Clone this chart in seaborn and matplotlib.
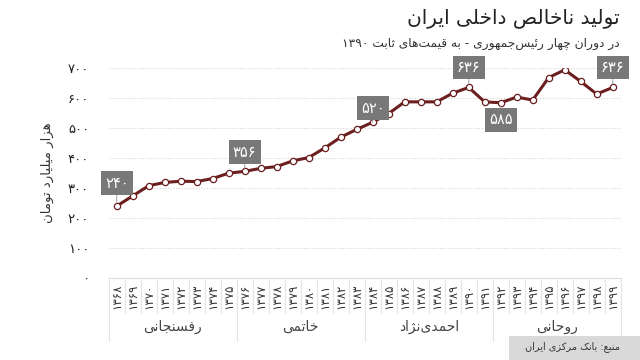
import matplotlib
matplotlib.use("Agg")
import matplotlib.pyplot as plt
import matplotlib.transforms as mtransforms
import seaborn as sns
import pandas as pd

# ---------------- data ----------------
years = [1368, 1369, 1370, 1371, 1372, 1373, 1374, 1375,
         1376, 1377, 1378, 1379, 1380, 1381, 1382, 1383,
         1384, 1385, 1386, 1387, 1388, 1389, 1390, 1391,
         1392, 1393, 1394, 1395, 1396, 1397, 1398, 1399]
gdp = [240, 274, 308, 319, 323, 322, 332, 350,
       356, 366, 372, 391, 402, 434, 470, 496,
       520, 549, 588, 588, 588, 617, 636, 588,
       585, 604, 594, 669, 695, 656, 614, 636]
presidents = ["رفسنجانی", "خاتمی", "احمدی‌نژاد", "روحانی"]
president_first_year = [1368, 1376, 1384, 1392]
labelled_years = [1368, 1376, 1384, 1390, 1392, 1399]
label_offsets_px = [23, 19, 14, 20, -17, 20]
yticks = [0, 100, 200, 300, 400, 500, 600, 700]

title = "تولید ناخالص داخلی ایران"
subtitle = "در دوران چهار رئیس‌جمهوری - به قیمت‌های ثابت ۱۳۹۰"
ylabel = "هزار میلیارد تومان"
source = "منبع: بانک مرکزی ایران"

# ---------------- minimal Arabic/Persian shaping ----------------
FORMS = {
    'ء': (0xFE80, None, None, None),
    'آ': (0xFE81, 0xFE82, None, None),
    'أ': (0xFE83, 0xFE84, None, None),
    'ؤ': (0xFE85, 0xFE86, None, None),
    'إ': (0xFE87, 0xFE88, None, None),
    'ئ': (0xFE89, 0xFE8A, 0xFE8B, 0xFE8C),
    'ا': (0xFE8D, 0xFE8E, None, None),
    'ب': (0xFE8F, 0xFE90, 0xFE91, 0xFE92),
    'ة': (0xFE93, 0xFE94, None, None),
    'ت': (0xFE95, 0xFE96, 0xFE97, 0xFE98),
    'ث': (0xFE99, 0xFE9A, 0xFE9B, 0xFE9C),
    'ج': (0xFE9D, 0xFE9E, 0xFE9F, 0xFEA0),
    'ح': (0xFEA1, 0xFEA2, 0xFEA3, 0xFEA4),
    'خ': (0xFEA5, 0xFEA6, 0xFEA7, 0xFEA8),
    'د': (0xFEA9, 0xFEAA, None, None),
    'ذ': (0xFEAB, 0xFEAC, None, None),
    'ر': (0xFEAD, 0xFEAE, None, None),
    'ز': (0xFEAF, 0xFEB0, None, None),
    'س': (0xFEB1, 0xFEB2, 0xFEB3, 0xFEB4),
    'ش': (0xFEB5, 0xFEB6, 0xFEB7, 0xFEB8),
    'ص': (0xFEB9, 0xFEBA, 0xFEBB, 0xFEBC),
    'ض': (0xFEBD, 0xFEBE, 0xFEBF, 0xFEC0),
    'ط': (0xFEC1, 0xFEC2, 0xFEC3, 0xFEC4),
    'ظ': (0xFEC5, 0xFEC6, 0xFEC7, 0xFEC8),
    'ع': (0xFEC9, 0xFECA, 0xFECB, 0xFECC),
    'غ': (0xFECD, 0xFECE, 0xFECF, 0xFED0),
    'ف': (0xFED1, 0xFED2, 0xFED3, 0xFED4),
    'ق': (0xFED5, 0xFED6, 0xFED7, 0xFED8),
    'ك': (0xFED9, 0xFEDA, 0xFEDB, 0xFEDC),
    'ل': (0xFEDD, 0xFEDE, 0xFEDF, 0xFEE0),
    'م': (0xFEE1, 0xFEE2, 0xFEE3, 0xFEE4),
    'ن': (0xFEE5, 0xFEE6, 0xFEE7, 0xFEE8),
    'ه': (0xFEE9, 0xFEEA, 0xFEEB, 0xFEEC),
    'و': (0xFEED, 0xFEEE, None, None),
    'ى': (0xFEEF, 0xFEF0, None, None),
    'ي': (0xFEF1, 0xFEF2, 0xFEF3, 0xFEF4),
    'پ': (0xFB56, 0xFB57, 0xFB58, 0xFB59),
    'چ': (0xFB7A, 0xFB7B, 0xFB7C, 0xFB7D),
    'ژ': (0xFB8A, 0xFB8B, None, None),
    'ک': (0xFB8E, 0xFB8F, 0xFB90, 0xFB91),
    'گ': (0xFB92, 0xFB93, 0xFB94, 0xFB95),
    'ی': (0xFBFC, 0xFBFD, 0xFBFE, 0xFBFF),
}
LAM_ALEF = {'ا': (0xFEFB, 0xFEFC), 'آ': (0xFEF5, 0xFEF6),
            'أ': (0xFEF7, 0xFEF8), 'إ': (0xFEF9, 0xFEFA)}
DIGITS = set('۰۱۲۳۴۵۶۷۸۹0123456789')


def jtype(c):
    f = FORMS.get(c)
    if f is None:
        return 'U'
    if f[2] is None:
        return 'R' if f[1] is not None else 'U'
    return 'D'


def shape(text):
    chars = list(text)
    out = []
    n = len(chars)
    i = 0
    while i < n:
        c = chars[i]
        if c == '\u200c':
            i += 1
            continue
        if c not in FORMS:
            out.append(c)
            i += 1
            continue
        prev = chars[i - 1] if i > 0 else None
        joins_prev = prev is not None and jtype(prev) == 'D' and jtype(c) in 'DR'
        if c == 'ل' and i + 1 < n and chars[i + 1] in LAM_ALEF:
            iso, fin = LAM_ALEF[chars[i + 1]]
            out.append(chr(fin if joins_prev else iso))
            i += 2
            continue
        nxt = chars[i + 1] if i + 1 < n else None
        joins_next = nxt is not None and jtype(c) == 'D' and jtype(nxt) in 'DR'
        iso, fin, ini, med = FORMS[c]
        if joins_prev and joins_next:
            g = med
        elif joins_prev:
            g = fin
        elif joins_next:
            g = ini
        else:
            g = iso
        out.append(chr(g))
        i += 1
    # visual order: reverse, but keep digit runs left-to-right
    rev = out[::-1]
    res = []
    j = 0
    while j < len(rev):
        if rev[j] in DIGITS:
            k = j
            while k < len(rev) and rev[k] in DIGITS:
                k += 1
            res.extend(rev[j:k][::-1])
            j = k
        else:
            res.append(rev[j])
            j += 1
    return ''.join(res)


def fa(num):
    return str(num).translate(str.maketrans('0123456789', '۰۱۲۳۴۵۶۷۸۹'))


# ---------------- plot ----------------
sns.set_style("white")
plt.rcParams['font.family'] = ['DejaVu Sans']

LINE = '#6b1f1f'
GRID = '#d4d4d4'
SEP = '#e3e3e3'

df = pd.DataFrame({'pos': list(range(len(years))), 'gdp': gdp})

fig = plt.figure(figsize=(6.4, 3.6), dpi=100)
ax = fig.add_axes([108.7 / 640, (360 - 278) / 360, 512 / 640, (278 - 68.3) / 360])

for v in yticks[1:]:
    ax.axhline(v, color=GRID, lw=0.8, linestyle=(0, (1, 1.5)), zorder=0)

sns.lineplot(data=df, x='pos', y='gdp', ax=ax, color=LINE, lw=2.2,
             marker='o', markersize=4.5, markerfacecolor='white',
             markeredgecolor=LINE, markeredgewidth=0.9, zorder=3)

ax.set_xlim(-0.5, len(years) - 0.5)
ax.set_ylim(0, 700)
ax.set_xlabel('')
ax.set_ylabel('')

ax.set_yticks(yticks)
ax.set_yticklabels([fa(v) for v in yticks], fontsize=9.5, color='#222222')
ax.set_xticks(list(range(len(years))))
ax.set_xticklabels([fa(y) for y in years], rotation=90, fontsize=8.5, color='#333333')
ax.tick_params(axis='y', length=0, pad=14)
ax.tick_params(axis='x', length=0, pad=4)

for s in ['top', 'right', 'left']:
    ax.spines[s].set_visible(False)
ax.spines['bottom'].set_color('#dcdcdc')
ax.spines['bottom'].set_linewidth(0.8)

# category separators
trans = mtransforms.blended_transform_factory(ax.transData, ax.transAxes)
group_starts = [years.index(y) for y in president_first_year]
for b in range(len(years) + 1):
    xb = b - 0.5
    is_group = b in group_starts or b == len(years)
    y_end = -0.30 if is_group else -0.165
    ax.plot([xb, xb], [0, y_end], transform=trans, color=SEP, lw=0.8, clip_on=False, zorder=1)

# president names
bounds = group_starts + [len(years)]
for k, name in enumerate(presidents):
    cx = (bounds[k] + bounds[k + 1] - 1) / 2
    ax.text(cx, -0.235, shape(name), transform=trans, ha='center', va='center',
            fontsize=10, color='#444444')

# value labels
for yr, off in zip(labelled_years, label_offsets_px):
    i = years.index(yr)
    ax.annotate(fa(gdp[i]), xy=(i, gdp[i]), xytext=(0, off * 0.72), textcoords='offset points',
                ha='center', va='center', color='white', fontsize=10.5,
                bbox=dict(boxstyle='square,pad=0.3', fc='#787878', ec='none'),
                arrowprops=dict(arrowstyle='-', color='#a0a0a0', lw=0.7,
                                shrinkA=0, shrinkB=2.5),
                zorder=5)

# titles and notes
fig.text(620 / 640, 1 - 18 / 360, shape(title), ha='right', va='center',
         fontsize=14.5, color='#222222')
fig.text(620 / 640, 1 - 44 / 360, shape(subtitle), ha='right', va='center',
         fontsize=8.8, color='#333333')
fig.text(47 / 640, 1 - 173 / 360, shape(ylabel), rotation=90, ha='center', va='center',
         fontsize=9.5, color='#333333')

fig.patches.append(plt.Rectangle((509 / 640, 0), 131 / 640, (360 - 336) / 360,
                                 transform=fig.transFigure, fc='#d9d9d9', ec='none', zorder=0))
fig.text(620 / 640, 1 - 347 / 360, shape(source), ha='right', va='center',
         fontsize=7, color='#333333')

fig.savefig('out.png', dpi=100)
